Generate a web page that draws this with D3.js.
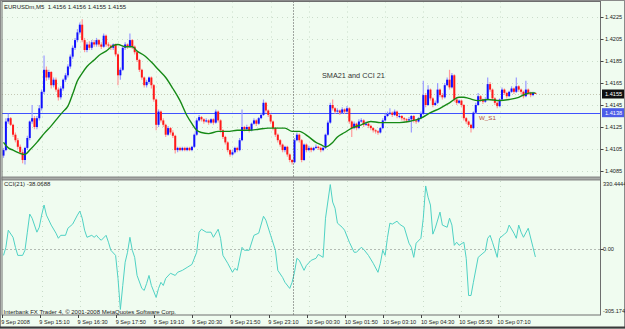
<!DOCTYPE html>
<html>
<head>
<meta charset="utf-8">
<script src="https://cdn.jsdelivr.net/npm/d3@7"></script>
<style>
  html, body { margin: 0; padding: 0; background: #f0fcf0; }
  svg { display: block; font-family: "Liberation Sans", Arial, sans-serif; }
</style>
</head>
<body>
<svg id="chart"></svg>
<script>
// EURUSDm M5 candles, 9 Sep 13:50 .. 10 Sep 08:25
const barOpen = [
  1.4099,1.4104,1.4130,1.4133,1.4127,1.4118,1.4113,1.4107,1.4102,1.4095,
  1.4106,1.4115,1.4130,1.4133,1.4125,1.4133,1.4142,1.4157,1.4177,1.4170,
  1.4175,1.4163,1.4168,1.4159,1.4152,1.4160,1.4168,1.4172,1.4180,1.4189,
  1.4197,1.4204,1.4211,1.4218,1.4204,1.4195,1.4200,1.4197,1.4202,1.4200,
  1.4204,1.4200,1.4198,1.4208,1.4200,1.4199,1.4197,1.4200,1.4191,1.4172,
  1.4177,1.4197,1.4200,1.4198,1.4204,1.4198,1.4193,1.4186,1.4177,1.4170,
  1.4163,1.4166,1.4170,1.4163,1.4150,1.4127,1.4139,1.4131,1.4127,1.4118,
  1.4124,1.4120,1.4117,1.4104,1.4106,1.4104,1.4106,1.4104,1.4106,1.4104,
  1.4107,1.4118,1.4131,1.4134,1.4132,1.4130,1.4131,1.4129,1.4132,1.4129,
  1.4139,1.4131,1.4122,1.4116,1.4111,1.4104,1.4100,1.4102,1.4106,1.4104,
  1.4113,1.4125,1.4123,1.4125,1.4122,1.4128,1.4131,1.4128,1.4133,1.4136,
  1.4147,1.4140,1.4136,1.4130,1.4124,1.4118,1.4113,1.4109,1.4104,1.4107,
  1.4100,1.4095,1.4093,1.4113,1.4118,1.4113,1.4095,1.4109,1.4104,1.4106,
  1.4104,1.4106,1.4107,1.4106,1.4104,1.4106,1.4118,1.4129,1.4145,1.4142,
  1.4139,1.4140,1.4138,1.4141,1.4139,1.4142,1.4130,1.4124,1.4128,1.4124,
  1.4130,1.4131,1.4127,1.4128,1.4126,1.4124,1.4122,1.4121,1.4120,1.4124,
  1.4131,1.4135,1.4137,1.4138,1.4136,1.4139,1.4135,1.4135,1.4133,1.4132,
  1.4131,1.4132,1.4135,1.4131,1.4130,1.4133,1.4137,1.4154,1.4145,1.4159,
  1.4151,1.4145,1.4147,1.4159,1.4154,1.4152,1.4163,1.4168,1.4161,1.4172,
  1.4150,1.4147,1.4149,1.4145,1.4133,1.4130,1.4127,1.4124,1.4138,1.4145,
  1.4153,1.4150,1.4148,1.4150,1.4164,1.4159,1.4151,1.4147,1.4144,1.4150,
  1.4159,1.4156,1.4153,1.4157,1.4160,1.4157,1.4162,1.4159,1.4157,1.4153,
  1.4159,1.4156,1.4154,1.4156
];
const barHigh = [
  1.4106,1.4133,1.4137,1.4134,1.4128,1.4120,1.4115,1.4109,1.4104,1.4107,
  1.4117,1.4131,1.4145,1.4135,1.4135,1.4145,1.4159,1.4190,1.4180,1.4177,
  1.4176,1.4170,1.4170,1.4161,1.4162,1.4169,1.4174,1.4182,1.4191,1.4199,
  1.4206,1.4214,1.4220,1.4223,1.4206,1.4202,1.4203,1.4204,1.4204,1.4206,
  1.4205,1.4202,1.4210,1.4209,1.4202,1.4200,1.4201,1.4201,1.4192,1.4179,
  1.4199,1.4202,1.4201,1.4210,1.4205,1.4199,1.4194,1.4187,1.4178,1.4171,
  1.4168,1.4171,1.4171,1.4164,1.4151,1.4141,1.4140,1.4133,1.4128,1.4126,
  1.4125,1.4122,1.4118,1.4107,1.4107,1.4107,1.4107,1.4107,1.4107,1.4108,
  1.4119,1.4133,1.4136,1.4135,1.4133,1.4133,1.4132,1.4133,1.4133,1.4141,
  1.4140,1.4132,1.4123,1.4117,1.4112,1.4105,1.4104,1.4107,1.4107,1.4115,
  1.4141,1.4126,1.4127,1.4126,1.4129,1.4133,1.4132,1.4134,1.4138,1.4150,
  1.4148,1.4141,1.4137,1.4131,1.4125,1.4119,1.4114,1.4110,1.4108,1.4108,
  1.4101,1.4096,1.4115,1.4120,1.4119,1.4114,1.4110,1.4110,1.4108,1.4107,
  1.4107,1.4109,1.4108,1.4107,1.4108,1.4119,1.4131,1.4147,1.4150,1.4143,
  1.4142,1.4141,1.4143,1.4142,1.4144,1.4143,1.4131,1.4130,1.4129,1.4132,
  1.4133,1.4132,1.4130,1.4129,1.4127,1.4125,1.4123,1.4122,1.4125,1.4133,
  1.4137,1.4139,1.4142,1.4139,1.4141,1.4140,1.4137,1.4136,1.4134,1.4133,
  1.4134,1.4136,1.4136,1.4132,1.4134,1.4139,1.4167,1.4156,1.4163,1.4160,
  1.4152,1.4149,1.4165,1.4160,1.4156,1.4165,1.4170,1.4177,1.4174,1.4173,
  1.4151,1.4150,1.4150,1.4146,1.4134,1.4131,1.4128,1.4139,1.4147,1.4156,
  1.4154,1.4151,1.4152,1.4170,1.4166,1.4160,1.4152,1.4148,1.4151,1.4161,
  1.4160,1.4157,1.4158,1.4162,1.4161,1.4170,1.4163,1.4160,1.4158,1.4167,
  1.4160,1.4157,1.4157,1.4156
];
const barLow = [
  1.4097,1.4103,1.4128,1.4126,1.4116,1.4111,1.4105,1.4100,1.4092,1.4091,
  1.4104,1.4113,1.4128,1.4123,1.4123,1.4131,1.4140,1.4155,1.4167,1.4168,
  1.4160,1.4161,1.4157,1.4149,1.4150,1.4158,1.4166,1.4170,1.4178,1.4187,
  1.4195,1.4202,1.4209,1.4202,1.4193,1.4193,1.4195,1.4195,1.4198,1.4198,
  1.4198,1.4196,1.4197,1.4198,1.4197,1.4195,1.4195,1.4189,1.4163,1.4168,
  1.4176,1.4195,1.4196,1.4197,1.4196,1.4191,1.4184,1.4175,1.4168,1.4161,
  1.4161,1.4164,1.4160,1.4148,1.4122,1.4125,1.4129,1.4125,1.4116,1.4117,
  1.4118,1.4115,1.4101,1.4102,1.4103,1.4103,1.4103,1.4103,1.4103,1.4103,
  1.4106,1.4117,1.4130,1.4130,1.4128,1.4129,1.4127,1.4128,1.4127,1.4128,
  1.4129,1.4120,1.4114,1.4109,1.4102,1.4098,1.4099,1.4101,1.4102,1.4103,
  1.4112,1.4121,1.4122,1.4120,1.4121,1.4127,1.4126,1.4127,1.4132,1.4135,
  1.4138,1.4134,1.4128,1.4122,1.4116,1.4111,1.4107,1.4102,1.4102,1.4098,
  1.4093,1.4091,1.4092,1.4112,1.4111,1.4093,1.4094,1.4102,1.4103,1.4102,
  1.4103,1.4105,1.4104,1.4102,1.4103,1.4105,1.4117,1.4128,1.4140,1.4137,
  1.4138,1.4136,1.4137,1.4137,1.4138,1.4128,1.4116,1.4123,1.4122,1.4123,
  1.4129,1.4125,1.4126,1.4124,1.4122,1.4120,1.4119,1.4118,1.4119,1.4123,
  1.4130,1.4134,1.4136,1.4134,1.4135,1.4133,1.4133,1.4131,1.4130,1.4129,
  1.4130,1.4120,1.4129,1.4128,1.4129,1.4132,1.4136,1.4143,1.4144,1.4149,
  1.4143,1.4144,1.4146,1.4152,1.4150,1.4151,1.4162,1.4159,1.4160,1.4148,
  1.4145,1.4146,1.4143,1.4131,1.4128,1.4125,1.4120,1.4123,1.4137,1.4144,
  1.4148,1.4146,1.4147,1.4149,1.4157,1.4149,1.4145,1.4142,1.4143,1.4149,
  1.4154,1.4151,1.4152,1.4156,1.4155,1.4156,1.4157,1.4155,1.4151,1.4152,
  1.4154,1.4152,1.4153,1.4155
];
const barClose = [
  1.4104,1.4130,1.4133,1.4127,1.4118,1.4113,1.4107,1.4102,1.4095,1.4106,
  1.4115,1.4130,1.4133,1.4125,1.4133,1.4142,1.4157,1.4177,1.4170,1.4175,
  1.4163,1.4168,1.4159,1.4152,1.4160,1.4168,1.4172,1.4180,1.4189,1.4197,
  1.4204,1.4211,1.4218,1.4204,1.4195,1.4200,1.4197,1.4202,1.4200,1.4204,
  1.4200,1.4198,1.4208,1.4200,1.4199,1.4197,1.4200,1.4191,1.4172,1.4177,
  1.4197,1.4200,1.4198,1.4204,1.4198,1.4193,1.4186,1.4177,1.4170,1.4163,
  1.4166,1.4170,1.4163,1.4150,1.4127,1.4139,1.4131,1.4127,1.4118,1.4124,
  1.4120,1.4117,1.4104,1.4106,1.4104,1.4106,1.4104,1.4106,1.4104,1.4107,
  1.4118,1.4131,1.4134,1.4132,1.4130,1.4131,1.4129,1.4132,1.4129,1.4139,
  1.4131,1.4122,1.4116,1.4111,1.4104,1.4100,1.4102,1.4106,1.4104,1.4113,
  1.4125,1.4123,1.4125,1.4122,1.4128,1.4131,1.4128,1.4133,1.4136,1.4147,
  1.4140,1.4136,1.4130,1.4124,1.4118,1.4113,1.4109,1.4104,1.4107,1.4100,
  1.4095,1.4093,1.4113,1.4118,1.4113,1.4095,1.4109,1.4104,1.4106,1.4104,
  1.4106,1.4107,1.4106,1.4104,1.4106,1.4118,1.4129,1.4145,1.4142,1.4139,
  1.4140,1.4138,1.4141,1.4139,1.4142,1.4130,1.4124,1.4128,1.4124,1.4130,
  1.4131,1.4127,1.4128,1.4126,1.4124,1.4122,1.4121,1.4120,1.4124,1.4131,
  1.4135,1.4137,1.4138,1.4136,1.4139,1.4135,1.4135,1.4133,1.4132,1.4131,
  1.4132,1.4135,1.4131,1.4130,1.4133,1.4137,1.4154,1.4145,1.4159,1.4151,
  1.4145,1.4147,1.4159,1.4154,1.4152,1.4163,1.4168,1.4161,1.4172,1.4150,
  1.4147,1.4149,1.4145,1.4133,1.4130,1.4127,1.4124,1.4138,1.4145,1.4153,
  1.4150,1.4148,1.4150,1.4164,1.4159,1.4151,1.4147,1.4144,1.4150,1.4159,
  1.4156,1.4153,1.4157,1.4160,1.4157,1.4162,1.4159,1.4157,1.4153,1.4159,
  1.4156,1.4154,1.4156,1.4155
];

// SMA(21) read at sample bars
const smaBar = [0,2,4,7,9,11,14,17,20,23,25,27,29,31,33,35,38,40,43,46,48,51,54,56,59,62,65,68,71,74,77,79,81,83,86,90,94,98,103,107,111,115,118,121,124,128,131,133,135,138,140,143,146,150,154,158,162,166,170,175,179,183,187,191,193,195,199,203,208,212,216,219,221,223];
const smaValue = [1.4111,1.4106,1.4104,1.4101,1.4100,1.4104,1.4111,1.4119,1.4126,1.4134,1.4139,1.4144,1.4155,1.4167,1.4174,1.4180,1.4186,1.4190,1.4194,1.4199,1.4200,1.4198,1.4198,1.4194,1.4190,1.4184,1.4177,1.4170,1.4160,1.4149,1.4135,1.4128,1.4122,1.4120,1.4119,1.4121,1.4121,1.4122,1.4122,1.4123,1.4124,1.4124,1.4124,1.4121,1.4121,1.4116,1.4111,1.4109,1.4107,1.4111,1.4116,1.4120,1.4124,1.4127,1.4130,1.4129,1.4129,1.4129,1.4130,1.4133,1.4138,1.4142,1.4147,1.4152,1.4152,1.4151,1.4149,1.4150,1.4149,1.4150,1.4152,1.4155,1.4156,1.4156];

// CCI(21) read at sample bars
const cciBar = [0,1,2,4,5,6,8,9,10,11,12,14,15,16,17,18,20,22,23,24,26,27,29,31,32,33,34,35,37,38,39,40,41,43,44,45,47,48,49,50,51,52,53,54,55,56,58,59,60,61,62,64,65,66,67,68,70,72,73,75,77,79,81,82,83,85,87,88,90,91,92,94,96,97,98,100,101,103,105,107,109,110,112,114,115,117,118,120,121,122,123,124,126,127,129,131,132,134,135,137,138,139,140,142,143,145,147,148,150,151,153,155,157,158,159,160,161,162,163,165,166,168,170,171,172,173,175,176,177,178,179,180,181,183,184,186,187,188,189,190,191,193,194,195,196,197,199,201,202,203,204,205,207,208,210,211,212,214,215,216,217,218,220,222,223];
const cciValue = [-30,11,98,62,11,-30,-30,-4,88,180,159,88,113,175,226,175,124,83,57,72,72,108,129,175,195,159,98,62,72,62,72,57,47,72,37,-4,-30,-147,-305,-183,-65,-14,62,-4,-40,-132,-198,-208,-173,-132,-183,-244,-198,-167,-183,-147,-121,-132,-116,-106,-91,-76,-14,88,103,88,88,62,103,57,-30,-70,-116,-96,-106,11,-4,-4,72,83,169,149,72,-4,-106,-142,-167,-198,-167,-116,-45,-55,-106,-81,-55,-45,-25,-40,159,330,241,210,134,113,98,37,-14,-14,11,1,-30,-70,-116,-70,-4,-30,62,134,129,144,129,113,32,11,-40,32,57,159,323,266,226,78,108,190,124,113,159,124,21,37,21,37,-45,-234,-234,-167,-40,-19,-9,57,72,37,-40,57,78,88,124,83,57,124,88,62,108,11,-38];

const priceTicks = [1.4225, 1.4205, 1.4185, 1.4165, 1.4145, 1.4125, 1.4105, 1.4085];
const bidPrice = 1.4155;
const levelPrice = 1.4138;
const levelName = "W_S1";
const cciMax = 330.4444, cciMin = -305.174, cciLast = -38.0688;
const timeLabelBar = [0,16,32,48,64,80,96,112,128,144,160,176,192,208];
const timeLabels = ["9 Sep 2008","9 Sep 15:10","9 Sep 16:30","9 Sep 17:50","9 Sep 19:10","9 Sep 20:30",
  "9 Sep 21:50","9 Sep 23:10","10 Sep 00:30","10 Sep 01:50","10 Sep 03:10","10 Sep 04:30","10 Sep 05:50","10 Sep 07:10"];
const daySeparatorBar = 122;

drawChart();

function drawChart() {
    const width = 625, height = 329;
    const left = 2, right = 600.5, top = 1.5, bottom = 315;

    const svg = d3.select("#chart").attr("width", width).attr("height", height);

    svg.append("rect").attr("width", width).attr("height", height).attr("fill", "#f0fcf0");

    const x = d3.scaleLinear().domain([0, 223]).range([3.5, 535.4]);
    const y = d3.scaleLinear().domain([1.4085, 1.4225]).range([171, 17]);
    const yc = d3.scaleLinear().domain([cciMin, cciMax]).range([309.5, 184.5]);

    // faint dotted grid
    const grid = svg.append("g").attr("stroke", "#c9dcc9").attr("stroke-dasharray", "1,4");
    grid.selectAll("line.h").data(priceTicks).join("line")
        .attr("x1", left).attr("x2", right)
        .attr("y1", d => Math.round(y(d)) + 0.5).attr("y2", d => Math.round(y(d)) + 0.5);
    grid.selectAll("line.v").data(timeLabelBar.slice(1)).join("line")
        .attr("x1", d => Math.round(x(d)) + 0.5).attr("x2", d => Math.round(x(d)) + 0.5)
        .attr("y1", top).attr("y2", 177);
    grid.selectAll("line.v2").data(timeLabelBar.slice(1)).join("line")
        .attr("x1", d => Math.round(x(d)) + 0.5).attr("x2", d => Math.round(x(d)) + 0.5)
        .attr("y1", 181).attr("y2", bottom);

    // bid line and support level
    svg.append("line").attr("x1", left).attr("x2", right)
        .attr("y1", Math.round(y(bidPrice)) + 0.5).attr("y2", Math.round(y(bidPrice)) + 0.5)
        .attr("stroke", "#c4c8b4").attr("stroke-dasharray", "1,2");
    svg.append("line").attr("x1", left).attr("x2", right)
        .attr("y1", Math.round(y(levelPrice)) + 0.5).attr("y2", Math.round(y(levelPrice)) + 0.5)
        .attr("stroke", "#3f52ff").attr("stroke-width", 1);

    // candles
    const bars = d3.range(barOpen.length).map(i => ({
        i, o: barOpen[i], h: barHigh[i], l: barLow[i], c: barClose[i]
    }));
    svg.append("g").selectAll("line").data(bars).join("line")
        .attr("x1", d => x(d.i)).attr("x2", d => x(d.i))
        .attr("y1", d => y(d.h)).attr("y2", d => y(d.l))
        .attr("stroke", d => d.c >= d.o ? "#9a9cff" : "#ff9c9c")
        .attr("stroke-width", 1.2);
    svg.append("g").selectAll("rect").data(bars).join("rect")
        .attr("x", d => x(d.i) - 1)
        .attr("width", 2)
        .attr("y", d => y(Math.max(d.o, d.c)))
        .attr("height", d => Math.max(1, Math.abs(y(d.o) - y(d.c))))
        .attr("fill", d => d.c >= d.o ? "#1010ff" : "#ff1a1a");

    // SMA 21
    const smaLine = d3.line().x(d => x(d[0])).y(d => y(d[1])).curve(d3.curveMonotoneX);
    svg.append("path").datum(smaBar.map((b, k) => [b, smaValue[k]]))
        .attr("d", smaLine).attr("fill", "none")
        .attr("stroke", "#168a16").attr("stroke-width", 1.4);

    // CCI panel
    svg.append("line").attr("x1", left).attr("x2", right)
        .attr("y1", Math.round(yc(0)) + 0.5).attr("y2", Math.round(yc(0)) + 0.5)
        .attr("stroke", "#b4bcb4").attr("stroke-dasharray", "2,2");
    const cciLine = d3.line().x(d => x(d[0])).y(d => yc(d[1]));
    svg.append("path").datum(cciBar.map((b, k) => [b, cciValue[k]]))
        .attr("d", cciLine).attr("fill", "none")
        .attr("stroke", "#4fd2c4").attr("stroke-width", 1);

    // day separator
    svg.append("line")
        .attr("x1", Math.round(x(daySeparatorBar)) - 0.5).attr("x2", Math.round(x(daySeparatorBar)) - 0.5)
        .attr("y1", top).attr("y2", bottom)
        .attr("stroke", "#505050").attr("stroke-dasharray", "1,2");

    // frames
    svg.append("rect").attr("x", left).attr("y", top)
        .attr("width", right - left).attr("height", bottom - top)
        .attr("fill", "none").attr("stroke", "#6e6e6e");
    svg.append("rect").attr("x", left).attr("y", 177)
        .attr("width", right - left).attr("height", 3)
        .attr("fill", "#a8aca8").attr("stroke", "#6e6e6e").attr("stroke-width", 0.8);
    svg.append("rect").attr("x", 0.5).attr("y", 0.5)
        .attr("width", width - 1).attr("height", height - 1.5)
        .attr("fill", "none").attr("stroke", "#8a8a8a");
    svg.append("line").attr("x1", 0).attr("x2", width).attr("y1", 327.5).attr("y2", 327.5)
        .attr("stroke", "#3a3a3a").attr("stroke-width", 2);

    // right price axis
    const axisG = svg.append("g").attr("font-size", "5.6px").attr("fill", "#222");
    axisG.selectAll("line").data(priceTicks).join("line")
        .attr("x1", right).attr("x2", right + 3)
        .attr("y1", d => Math.round(y(d)) + 0.5).attr("y2", d => Math.round(y(d)) + 0.5)
        .attr("stroke", "#444");
    axisG.selectAll("text").data(priceTicks).join("text")
        .attr("x", 605).attr("y", d => y(d) + 2)
        .text(d => d.toFixed(4));

    // highlighted price labels
    const marks = [{p: bidPrice, bg: "#101010"}, {p: levelPrice, bg: "#4c5ce8"}];
    const markG = svg.append("g").selectAll("g").data(marks).join("g");
    markG.append("rect").attr("x", 602).attr("y", d => y(d.p) - 4.5)
        .attr("width", 22).attr("height", 9).attr("fill", d => d.bg);
    markG.append("text").attr("x", 605).attr("y", d => y(d.p) + 2)
        .attr("font-size", "5.6px").attr("fill", "#fff").text(d => d.p.toFixed(4));

    // CCI axis labels
    const cciAxis = [{v: cciMax, t: cciMax.toFixed(4), dy: 1}, {v: 0, t: "0.00", dy: 2}, {v: cciMin, t: cciMin.toFixed(3), dy: 3}];
    svg.append("g").selectAll("text").data(cciAxis).join("text")
        .attr("x", 603).attr("y", d => yc(d.v) + d.dy)
        .attr("font-size", "5.6px").attr("fill", "#222").text(d => d.t);
    svg.append("line").attr("x1", right).attr("x2", right + 3)
        .attr("y1", Math.round(yc(0)) + 0.5).attr("y2", Math.round(yc(0)) + 0.5).attr("stroke", "#444");

    // time axis
    const timeG = svg.append("g").selectAll("g").data(timeLabelBar).join("g");
    timeG.append("line")
        .attr("x1", d => Math.round(x(d)) - 1.5).attr("x2", d => Math.round(x(d)) - 1.5)
        .attr("y1", bottom).attr("y2", bottom + 3).attr("stroke", "#444");
    timeG.append("text")
        .attr("x", d => x(d) - 2.3).attr("y", 323.5)
        .attr("font-size", "5.6px").attr("fill", "#222")
        .text((d, k) => timeLabels[k]);

    // captions
    const lastBar = bars[bars.length - 1];
    svg.append("text").attr("x", 4).attr("y", 8.5).attr("font-size", "6px").attr("fill", "#222")
        .attr("xml:space", "preserve")
        .text(`EURUSDm,M5  ${lastBar.o.toFixed(4)} ${lastBar.h.toFixed(4)} ${lastBar.l.toFixed(4)} ${lastBar.c.toFixed(4)}`);
    svg.append("text").attr("x", 322).attr("y", 78).attr("font-size", "7.3px").attr("fill", "#333")
        .text("SMA21 and CCI 21");
    svg.append("text").attr("x", 479).attr("y", 120).attr("font-size", "6.2px").attr("fill", "#b24b3c")
        .text(levelName);
    svg.append("text").attr("x", 4).attr("y", 186).attr("font-size", "6px").attr("fill", "#222")
        .text(`CCI(21) ${cciLast.toFixed(4)}`);
    svg.append("text").attr("x", 3.5).attr("y", 314).attr("font-size", "6px").attr("fill", "#222")
        .text("Interbank FX Trader 4, \u00a9 2001-2008 MetaQuotes Software Corp.");
}
</script>
</body>
</html>
